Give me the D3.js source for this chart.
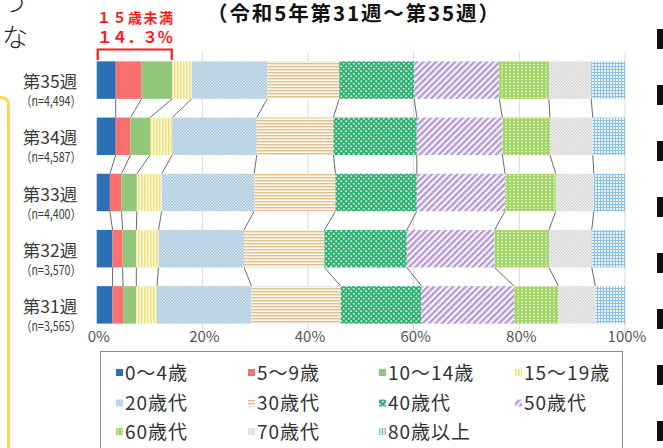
<!DOCTYPE html>
<html>
<head>
<meta charset="utf-8">
<script src="https://cdn.jsdelivr.net/npm/d3@7"></script>
<style>
  body { margin: 0; background: #fff; }
  svg { display: block; font-family: "Noto Sans CJK JP", sans-serif; }
</style>
</head>
<body>
<div class="age-figure"></div>
<script>
// categories (top to bottom) and sample sizes
let weeks = ["第35週", "第34週", "第33週", "第32週", "第31週"];
let counts = ["（n=4,494）", "（n=4,587）", "（n=4,400）", "（n=3,570）", "（n=3,565）"];
let ageGroups = ["0～4歳", "5～9歳", "10～14歳", "15～19歳", "20歳代", "30歳代",
                 "40歳代", "50歳代", "60歳代", "70歳代", "80歳以上"];

// share (%) of each age group
let week35 = [3.6, 4.9, 5.8, 3.7, 14.3, 13.6, 14.2, 16.1, 9.4, 8.0, 6.4];
let week34 = [3.6, 2.8, 3.7, 4.2, 16.0, 14.5, 15.8, 16.2, 9.0, 8.1, 6.1];
let week33 = [2.5, 2.2, 2.9, 4.7, 17.5, 15.4, 15.4, 16.7, 9.6, 7.2, 5.9];
let week32 = [3.0, 1.9, 2.6, 4.2, 16.2, 15.2, 15.6, 16.6, 10.3, 8.1, 6.3];
let week31 = [3.0, 2.0, 2.5, 3.9, 17.9, 16.9, 15.3, 17.5, 8.4, 7.0, 5.6];

let xTicks = [0, 20, 40, 60, 80, 100];
let title = "（令和5年第31週～第35週）";
let noteLines = ["１５歳未満", "１４．３％"];

let W = 663, H = 448;

let svg = d3.select(".age-figure").append("svg")
    .attr("width", W)
    .attr("height", H);

// ---- fills (solid + hatch patterns like the excel chart)
let defs = svg.append("defs");
function pat(id, w, h, bg, rot) {
    let p = defs.append("pattern")
        .attr("id", id)
        .attr("patternUnits", "userSpaceOnUse")
        .attr("width", w).attr("height", h);
    if (rot) p.attr("patternTransform", "rotate(" + rot + ")");
    p.append("rect").attr("width", w).attr("height", h).attr("fill", bg);
    return p;
}
let p;
p = pat("f3", 3, 3, "#fffbe3");
p.append("rect").attr("width", 1.5).attr("height", 3).attr("fill", "#eedf78");
p = pat("f4", 3, 3, "#d5e5ef");
p.append("rect").attr("width", 1.5).attr("height", 1.5).attr("fill", "#a6c6da");
p.append("rect").attr("x", 1.5).attr("y", 1.5).attr("width", 1.5).attr("height", 1.5).attr("fill", "#a6c6da");
p = pat("f5", 3, 3, "#fdf7ec");
p.append("rect").attr("width", 3).attr("height", 1.4).attr("fill", "#ddc08f");
p = pat("f6", 5, 5, "#2daf70");
p.append("circle").attr("cx", 1.25).attr("cy", 1.25).attr("r", 1).attr("fill", "#d9f3e5");
p.append("circle").attr("cx", 3.75).attr("cy", 3.75).attr("r", 1).attr("fill", "#d9f3e5");
p = pat("f7", 4.5, 4.5, "#f7f2fb", 45);
p.append("rect").attr("width", 2.2).attr("height", 4.5).attr("fill", "#b398d3");
p = pat("f8", 4, 3, "#a3d466");
p.append("rect").attr("x", 1.4).attr("y", 0.8).attr("width", 1.4).attr("height", 1.4).attr("fill", "#f3fbe8");
p = pat("f9", 3, 3, "#f2f2f2");
p.append("rect").attr("width", 1.5).attr("height", 1.5).attr("fill", "#d3d3d3");
p.append("rect").attr("x", 1.5).attr("y", 1.5).attr("width", 1.5).attr("height", 1.5).attr("fill", "#d3d3d3");
p = pat("f10", 3, 3, "#eaf4fb");
p.append("rect").attr("width", 3).attr("height", 1).attr("fill", "#8cc0e2");
p.append("rect").attr("width", 1).attr("height", 3).attr("fill", "#8cc0e2");

let fills = ["#2c6fb4", "#f8716f", "#92c67a", "url(#f3)", "url(#f4)", "url(#f5)",
             "url(#f6)", "url(#f7)", "url(#f8)", "url(#f9)", "url(#f10)"];

// ---- data table for d3.stack
let allWeeks = [week35, week34, week33, week32, week31];
let table = weeks.map(function(w, i) {
    let row = {week: w};
    ageGroups.forEach(function(a, j) { row[a] = allWeeks[i][j]; });
    return row;
});
let stacked = d3.stack().keys(ageGroups)(table);

let x = d3.scaleLinear().domain([0, 100]).range([96.7, 625]);
let y = d3.scaleBand().domain(weeks).range([52, 333])
    .paddingInner(0.333).paddingOuter(0.1665);

// gridlines
svg.append("g").selectAll("line")
    .data(xTicks.slice(1))
    .enter().append("line")
    .attr("x1", d => x(d)).attr("x2", d => x(d))
    .attr("y1", 52).attr("y2", 333)
    .attr("stroke", "#d9d9d9").attr("stroke-width", 1);

// series lines between bars
let links = [];
for (let k = 0; k < ageGroups.length - 1; k++) {
    for (let i = 0; i < weeks.length - 1; i++) {
        links.push({
            a: stacked[k][i][1], b: stacked[k][i + 1][1],
            y1: y(weeks[i]) + y.bandwidth(), y2: y(weeks[i + 1])
        });
    }
}
svg.append("g").selectAll("line")
    .data(links)
    .enter().append("line")
    .attr("x1", d => x(d.a)).attr("x2", d => x(d.b))
    .attr("y1", d => d.y1).attr("y2", d => d.y2)
    .attr("stroke", "#5a5a5a").attr("stroke-width", 0.9);

// bars
svg.append("g").selectAll("g")
    .data(stacked)
    .enter().append("g")
    .attr("fill", (d, i) => fills[i])
    .selectAll("rect")
    .data(d => d)
    .enter().append("rect")
    .attr("x", d => x(d[0]))
    .attr("y", d => y(d.data.week))
    .attr("width", d => x(d[1]) - x(d[0]))
    .attr("height", y.bandwidth());

// category labels
let lab = svg.append("g").attr("text-anchor", "middle").attr("fill", "#3a3a3a");
lab.selectAll(".wk")
    .data(weeks)
    .enter().append("text")
    .attr("x", 50)
    .attr("y", d => y(d) + y.bandwidth() / 2 + 8)
    .attr("font-size", 17.5)
    .text(d => d);
lab.selectAll(".n")
    .data(counts)
    .enter().append("text")
    .attr("x", 51)
    .attr("y", (d, i) => y(weeks[i]) + y.bandwidth() / 2 + 26)
    .attr("font-size", 13.5)
    .attr("textLength", 60)
    .attr("lengthAdjust", "spacingAndGlyphs")
    .text(d => d);

// x axis labels
svg.append("g").selectAll("text")
    .data(xTicks)
    .enter().append("text")
    .attr("x", d => x(d) + 2)
    .attr("y", 342)
    .attr("text-anchor", "middle")
    .attr("font-size", 15)
    .attr("fill", "#555")
    .text(d => d + "%");

// title
svg.append("text")
    .attr("x", 353).attr("y", 21)
    .attr("text-anchor", "middle")
    .attr("font-size", 20.5)
    .attr("font-weight", "bold")
    .attr("fill", "#111")
    .attr("textLength", 292)
    .text(title);

// red bracket for under 15
let under15 = stacked[2][0][1];
svg.append("path")
    .attr("d", "M" + (x(0) + 1) + ",60V49.5H" + (x(under15) - 0.5) + "V60")
    .attr("fill", "none").attr("stroke", "#ff1a1a").attr("stroke-width", 2.2);
svg.append("text")
    .attr("x", 135).attr("y", 23)
    .attr("text-anchor", "middle")
    .attr("font-size", 14).attr("font-weight", "bold")
    .attr("fill", "#ff1a1a")
    .attr("textLength", 76)
    .text(noteLines[0]);
svg.append("text")
    .attr("x", 135).attr("y", 43)
    .attr("text-anchor", "middle")
    .attr("font-size", 15.5).attr("font-weight", "bold")
    .attr("fill", "#ff1a1a")
    .attr("textLength", 76)
    .text(noteLines[1]);

// legend
svg.append("rect")
    .attr("x", 100.5).attr("y", 351.5)
    .attr("width", 522).attr("height", 110)
    .attr("fill", "#fff").attr("stroke", "#8c8c8c");
let legCols = [116, 248, 379, 515];
let legRows = [372.5, 403, 431.5];
let leg = svg.append("g").selectAll("g")
    .data(ageGroups)
    .enter().append("g")
    .attr("transform", (d, i) => "translate(" + legCols[i % 4] + "," + legRows[Math.floor(i / 4)] + ")");
leg.append("rect")
    .attr("x", 0).attr("y", -3.5)
    .attr("width", 7).attr("height", 7)
    .attr("fill", (d, i) => fills[i]);
leg.append("text")
    .attr("x", 9).attr("y", 7)
    .attr("font-size", 19)
    .attr("letter-spacing", 1)
    .attr("fill", "#333")
    .text(d => d);

// bits of the surrounding page
svg.append("path")
    .attr("d", "M0,97.5H1Q8.5,97.5 8.5,105V448")
    .attr("fill", "none").attr("stroke", "#fcd45a").attr("stroke-width", 3);
svg.append("text").attr("x", 2).attr("y", 11).attr("font-size", 26)
    .attr("font-weight", 300).attr("fill", "#222").text("う");
svg.append("text").attr("x", 2).attr("y", 47).attr("font-size", 26)
    .attr("font-weight", 300).attr("fill", "#222").text("な");
svg.append("g").selectAll("rect")
    .data(d3.range(8))
    .enter().append("rect")
    .attr("x", 657).attr("y", d => 29 + d * 56)
    .attr("width", 6).attr("height", 20)
    .attr("fill", "#111");
</script>
</body>
</html>
